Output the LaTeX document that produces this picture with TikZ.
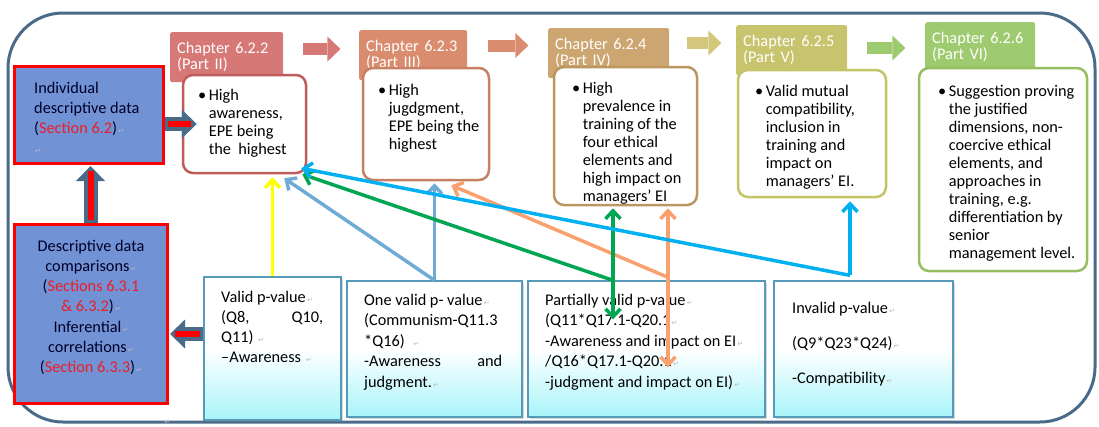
\documentclass[tikz,border=0pt]{standalone}
\usepackage{fontspec}
\setmainfont{Carlito}
\newfontfamily\markfont{DejaVu Sans}
\usetikzlibrary{arrows.meta,shadows}
\pgfdeclarelayer{bg}
\pgfsetlayers{bg,main}

\definecolor{framec}{RGB}{74,106,138}
\definecolor{descblue}{RGB}{114,146,214}
\definecolor{secred}{RGB}{237,28,36}
\definecolor{partII}{RGB}{214,120,118}
\definecolor{partIIline}{RGB}{192,92,90}
\definecolor{partIII}{RGB}{218,140,110}
\definecolor{partIIIline}{RGB}{200,128,98}
\definecolor{partIV}{RGB}{205,165,112}
\definecolor{partIVline}{RGB}{186,150,96}
\definecolor{stepIV}{RGB}{212,198,122}
\definecolor{partV}{RGB}{200,196,110}
\definecolor{partVline}{RGB}{196,196,102}
\definecolor{partVI}{RGB}{158,202,112}
\definecolor{partVIline}{RGB}{150,190,96}
\definecolor{pframe}{RGB}{85,155,185}
\definecolor{pcyan}{RGB}{168,244,250}
\definecolor{linkyellow}{RGB}{255,255,0}
\definecolor{linklb}{RGB}{110,172,214}
\definecolor{linkgreen}{RGB}{0,166,81}
\definecolor{linkorange}{RGB}{250,160,110}
\definecolor{linkblue}{RGB}{0,176,240}

\newcommand\crmark{{\markfont\fontsize{7}{7}\selectfont\color{gray!55}\,↵}}
\newcommand\bulletlist[1]{\begin{tabular}[t]{@{}l@{\hspace{2.5pt}}l@{}}\textbullet&\begin{tabular}[t]{@{}l@{}}#1\end{tabular}\end{tabular}}
\newcommand\textlines[1]{\begin{tabular}[t]{@{}l@{}}#1\end{tabular}}

\tikzset{
  >={Straight Barb[length=8pt,width=15pt]},
  chaptab/.style={fill=#1, rounded corners=2pt, text=white, align=left,
    inner xsep=7pt, minimum height=50pt, anchor=north west,
    font=\fontsize{16.3}{16.5}\selectfont},
  chapbody/.style={draw=#1, line width=2.5pt, fill=white, rounded corners=10pt},
  steparrow/.style={draw=#1, line width=12pt,
    -{Triangle[length=13pt,width=25pt,line width=0pt]}},
  descbox/.style={fill=descblue, draw=red, line width=3pt},
  bigarrow/.style={draw=framec, line width=14pt, shorten >=1.5pt,
    -{Triangle[length=15pt,width=29pt,line width=0pt]}},
  redcore/.style={draw=red, line width=6pt, shorten <=3pt, shorten >=6pt},
  pbox/.style={draw=pframe, line width=1.3pt, top color=white, bottom color=pcyan,
    middle color=white,
    drop shadow={shadow xshift=2pt, shadow yshift=-2pt, opacity=.3, fill=gray}},
  link/.style={draw=#1, line width=3.5pt, line join=round, ->},
  words/.style={inner sep=0pt, font=\fontsize{16.3}{18}\selectfont}
}

\begin{document}
\begin{tikzpicture}[x=1pt,y=-1pt]
    \useasboundingbox (0,0) rectangle (1099,426);
    \begin{pgfonlayer}{bg}
        \draw[framec, line width=3pt, rounded corners=55pt] (8,13) rectangle (1095,422);
    \end{pgfonlayer}

    \node (t1) [chaptab=partII, text width=99pt] at (170,32) {Chapter 6.2.2\\(Part II)};
    \node (t2) [chaptab=partIII, text width=94pt] at (359,30) {Chapter 6.2.3\\(Part III)};
    \node (t3) [chaptab=partIV, text width=107pt] at (548,28) {Chapter 6.2.4\\(Part IV)};
    \node (t4) [chaptab=partV, text width=97pt] at (736,25) {Chapter 6.2.5\\(Part V)};
    \node (t5) [chaptab=partVI, text width=96pt] at (925,22) {Chapter 6.2.6\\(Part VI)};

    \node (c1) [chapbody=partIIline, minimum width=123pt, minimum height=98pt] at (244.5,124) {};
    \node (c2) [chapbody=partIIIline, minimum width=126pt, minimum height=112pt] at (426,124) {};
    \node (c3) [chapbody=partIVline, minimum width=143pt, minimum height=138pt] at (625.5,136) {};
    \node (c4) [chapbody=partVline, minimum width=148pt, minimum height=127pt] at (812,133.5) {};
    \node (c5) [chapbody=partVIline, minimum width=168pt, minimum height=203pt] at (1003,169.5) {};

    \node (c1text) [words, anchor=base west] at (198,100) {\bulletlist{High\\awareness,\\EPE being\\the~ highest}};
    \node (c2text) [words, anchor=base west] at (378,95) {\bulletlist{High\\jugdgment,\\EPE being the\\highest}};
    \node (c3text) [words, anchor=base west] at (572,93) {\bulletlist{High\\prevalence in\\training of the\\four ethical\\elements and\\high impact on\\managers' EI}};
    \node (c4text) [words, anchor=base west] at (755,96) {\bulletlist{Valid mutual\\compatibility,\\inclusion in\\training and\\impact on\\managers' EI.}};
    \node (c5text) [words, anchor=base west] at (938,96) {\bulletlist{Suggestion proving\\the justified\\dimensions, non-\\coercive ethical\\elements, and\\approaches in\\training, e.g.\\differentiation by\\senior\\management level.}};

    \draw[steparrow=partII] ([shift={(20,17)}]t1.north east) -- ++(37,0);
    \draw[steparrow=partIII] ([shift={(21,15.5)}]t2.north east) -- ++(40,0);
    \draw[steparrow=stepIV] ([shift={(18,15)}]t3.north east) -- ++(34,0);
    \draw[steparrow=partVI] ([shift={(20,23)}]t4.north east) -- ++(38,0);

    \node (ind) [descbox, minimum width=149pt, minimum height=97pt] at (88.5,114.5) {};
    \node (desc) [descbox, minimum width=153pt, minimum height=179pt] at (90.5,313.5) {};
    \node (indtext) [words, anchor=base west, text=black!85!blue, font=\fontsize{16.3}{20}\selectfont] at (34,93)
        {\textlines{Individual\\descriptive data\\(\textcolor{secred}{Section 6.2})\crmark\\\crmark}};
    \node (desctext) [words, anchor=base, text=black!85!blue, font=\fontsize{16.3}{20.3}\selectfont] at (91,251)
        {\begin{tabular}[t]{@{}c@{}}Descriptive data\\comparisons\crmark\\(\textcolor{secred}{Sections 6.3.1}\\\textcolor{secred}{\& 6.3.2})\crmark\\Inferential\crmark\\correlations\crmark\\(\textcolor{secred}{Section 6.3.3})\crmark\end{tabular}};

    \node (b1) [pbox, minimum width=137pt, minimum height=143pt] at (272.5,348.5) {};
    \node (b2) [pbox, minimum width=175pt, minimum height=136pt] at (434.5,349) {};
    \node (b3) [pbox, minimum width=237pt, minimum height=136pt] at (646.5,349) {};
    \node (b4) [pbox, minimum width=179pt, minimum height=136pt] at (863.5,349) {};

    \node (b1text) [words, anchor=base west, font=\fontsize{16.3}{20}\selectfont] at (221,302)
        {\textlines{Valid p-value\crmark\\\makebox[102pt]{(Q8,\hfill Q10,}\\Q11)~\crmark\\–Awareness~\crmark}};
    \node (b2text) [words, anchor=base west, font=\fontsize{16.3}{20.5}\selectfont] at (364,305)
        {\textlines{One valid p- value\crmark\\(Communism-Q11.3\\{}*Q16)~~\crmark\\\makebox[138pt]{-Awareness\hfill and}\\judgment.\crmark}};
    \node (b3text) [words, anchor=base west, font=\fontsize{16.3}{20.5}\selectfont] at (545,305)
        {\textlines{Partially valid p-value\crmark\\(Q11*Q17.1-Q20.1\crmark\\-Awareness and impact on EI\crmark\\/Q16*Q17.1-Q20.1\crmark\\-judgment and impact on EI)\crmark}};
    \node (b4text) [words, anchor=base west, font=\fontsize{16.3}{20.5}\selectfont] at (792,313)
        {\textlines{Invalid p-value\crmark\\[14.5pt](Q9*Q23*Q24)\crmark\\[14.5pt]-Compatibility\crmark}};
    \node (tailmark) [inner sep=0pt, anchor=base west] at (163,424) {\crmark};

    \draw[bigarrow] (desc.north) -- (desc.north |- ind.south);
    \draw[redcore] (desc.north) -- (desc.north |- ind.south);
    \draw[bigarrow, shorten >=-15pt] (ind.east |- c1.west) -- (c1.west);
    \draw[redcore, shorten >=-9pt] (ind.east |- c1.west) -- (c1.west);
    \draw[bigarrow] ([yshift=14.5pt]b1.west) -- ([yshift=14.5pt]b1.west -| desc.east);
    \draw[redcore] ([yshift=14.5pt]b1.west) -- ([yshift=14.5pt]b1.west -| desc.east);

    \coordinate (gj) at ([xshift=-33.5pt]b3.north);
    \coordinate (oj) at ([xshift=21.5pt,yshift=3pt]b3.north);
    \coordinate (bj) at ([xshift=-13.5pt,yshift=5pt]b4.north);

    \draw[link=linkyellow, shorten >=3pt] (b1.north) -- (b1.north |- c1.south);
    \draw[link=linklb] (b2.north) -- ([shift={(-23,4)}]c1.south east);
    \draw[link=linklb, shorten >=2pt] (b2.north) -- (b2.north |- c2.south);
    \draw[link=linkorange] (oj) -- ([shift={(-39,4)}]c2.south east);
    \draw[link=linkorange, <->, shorten >=2pt] ([yshift=-90pt]oj) -- (oj |- c3.south);
    \draw[link=linkgreen] (gj) -- ([shift={(-5,0)}]c1.south east);
    \draw[link=linkgreen, <->, shorten >=2pt] ([yshift=-39pt]gj) -- (gj |- c3.south);
    \draw[link=linkblue] (bj) -- ([shift={(-6,-6)}]c1.south east);
    \draw[link=linkblue, shorten >=3pt] (bj) -- (bj |- c4.south);
\end{tikzpicture}
\end{document}
